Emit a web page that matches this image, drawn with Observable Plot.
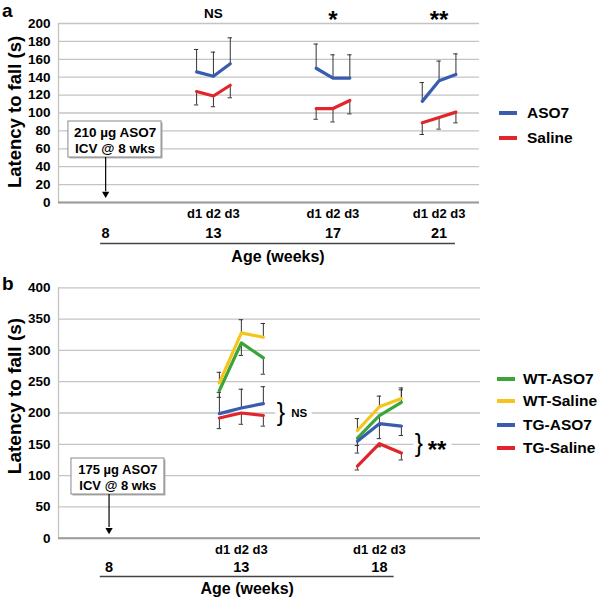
<!DOCTYPE html>
<html><head><meta charset="utf-8">
<script src="https://cdn.jsdelivr.net/npm/d3@7"></script>
<script src="https://cdn.jsdelivr.net/npm/@observablehq/plot@0.6"></script>
<style>
body{margin:0;background:#fff;font-family:"Liberation Sans",Arial,Helvetica,sans-serif;}
#root{position:relative;width:600px;height:597px;overflow:hidden;background:#fff;}
.panel{position:absolute;left:0;}
.item{position:absolute;white-space:nowrap;display:flex;align-items:center;font-weight:bold;font-size:15.5px;line-height:18px;color:#000;}
.sw{width:18px;height:3.5px;margin-right:10px;}
.plabel{position:absolute;font-weight:bold;font-size:19px;line-height:22px;color:#000;}
</style></head><body><div id="root"></div>
<script>
// ---------- DATA ----------
const days = ["d1", "d2", "d3"];

// Panel a
const weeksA = ["8", "13", "17", "21"];
const testedWeeksA = ["13", "17", "21"];
const seriesA = ["ASO7", "Saline"];
const aso7MeanA = [[146, 141, 155], [150, 139, 139], [113, 136, 143]];
const aso7ErrEndA = [[171, 168, 184], [177, 165, 165], [134, 158, 166]];
const salineMeanA = [[124, 119, 131], [105, 105, 114], [89, 95, 101]];
const salineErrEndA = [[109, 107, 117], [93, 90, 99], [76, 82, 89]];
const sigA = ["NS", "*", "**"];
const yTicksA = [0, 20, 40, 60, 80, 100, 120, 140, 160, 180, 200];

// Panel b
const weeksB = ["8", "13", "18"];
const testedWeeksB = ["13", "18"];
const seriesB = ["WT-ASO7", "WT-Saline", "TG-ASO7", "TG-Saline"];
const wtAsoMeanB = [[236, 312, 288], [160, 196, 217]];
const wtAsoErrEndB = [[225, 292, 262], [148, 180, 237]];
const wtSalMeanB = [[248, 328, 321], [172, 210, 223]];
const wtSalErrEndB = [[265, 349, 343], [191, 227, 240]];
const tgAsoMeanB = [[199, 208, 215], [155, 183, 179]];
const tgAsoErrEndB = [[233, 238, 242], [136, 159, 164]];
const tgSalMeanB = [[192, 200, 196], [115, 151, 136]];
const tgSalErrEndB = [[175, 182, 179], [109, 146, 125]];
const sigB = ["NS", "**"];
const sigYB = [200, 150];
const yTicksB = [0, 50, 100, 150, 200, 250, 300, 350, 400];

// ---------- LAYOUT / STYLE ----------
const FONT = "Liberation Sans, Arial, Helvetica, sans-serif";
const colorsA = ["#3a5cae", "#e1252a"];
const colorsB = ["#3ba53c", "#f6c51b", "#3a5cae", "#e1252a"];
const posA = {"8": 2.8, "13": 9.2, "17": 16.3, "21": 22.6};   // category slots
const posB = {"8": 2.3, "13": 8.32, "18": 14.6};

function rows(series, means, errs, weeks, pos) {
  const out = [];
  series.forEach((s, si) => weeks.forEach((w, wi) => days.forEach((d, di) =>
    out.push({series: s, week: w, day: d, x: pos[w] + (di - 1), y: means[si][wi][di], e: errs[si][wi][di]}))));
  return out;
}

const dataA = rows(seriesA, [aso7MeanA, salineMeanA], [aso7ErrEndA, salineErrEndA], testedWeeksA, posA);
const dataB = rows(seriesB, [wtAsoMeanB, wtSalMeanB, tgAsoMeanB, tgSalMeanB],
  [wtAsoErrEndB, wtSalErrEndB, tgAsoErrEndB, tgSalErrEndB], testedWeeksB, posB);

const grid = "#c4c4c4";
const bold = {fontWeight: "bold", fill: "#000"};

// ---------- PANEL A ----------
const lineA1 = posA["8"] - 0.3, lineA2 = posA["21"] + 0.97;
const plotA = Plot.plot({
  width: 600, height: 270,
  marginTop: 23, marginBottom: 68, marginLeft: 58, marginRight: 121,
  style: {fontFamily: FONT, color: "#000", background: "transparent", overflow: "visible"},
  x: {domain: [0, 25], axis: null},
  y: {domain: [0, 200], axis: null},
  color: {domain: seriesA, range: colorsA},
  marks: [
    Plot.gridY(yTicksA, {stroke: grid, strokeOpacity: 1, strokeWidth: 1.3}),
    Plot.ruleX([0], {stroke: grid, strokeWidth: 1.3}),
    Plot.ruleY([0], {stroke: "#9c9c9c", strokeWidth: 2}),
    Plot.axisY(yTicksA, {tickSize: 0, tickPadding: 8, fontSize: 13.5, ...bold, label: null}),
    Plot.text(["Latency to fall (s)"], {frameAnchor: "left", rotate: -90, dx: -38, dy: -1, textAnchor: "middle", lineAnchor: "bottom", fontSize: 18.5, ...bold}),
    // annotation box + arrow
    Plot.rect([0], {x1: 0.59, x2: 6.12, y1: 50.3, y2: 90.5, fill: "#b0b0b0", dx: 1.5, dy: 1.5}),
    Plot.rect([0], {x1: 0.59, x2: 6.12, y1: 50.3, y2: 90.5, fill: "white", stroke: "#8a8a8a", strokeWidth: 1}),
    Plot.text(["210 µg ASO7\nICV @ 8 wks"], {x: 3.36, y: 70.4, fontSize: 13.5, lineHeight: 1.19, ...bold}),
    Plot.ruleX([posA["8"]], {x: d => d, y1: 50.3, y2: 12, stroke: "#000", strokeWidth: 1.2}),
    Plot.dot([posA["8"]], {x: d => d, y: 9.6, symbol: "triangle", rotate: 180, r: 2.7, fill: "#000", stroke: "none"}),
    // error bars
    Plot.ruleX(dataA, {x: "x", y1: "y", y2: "e", stroke: "#333", strokeWidth: 1}),
    Plot.ruleY(dataA, {y: "e", x1: d => d.x - 0.13, x2: d => d.x + 0.13, stroke: "#333", strokeWidth: 1}),
    // lines
    Plot.line(dataA, {x: "x", y: "y", z: d => d.series + d.week, stroke: "series", strokeWidth: 3.2}),
    // significance
    Plot.text(testedWeeksA.filter((w, i) => sigA[i] === "NS"), {x: w => posA[w], y: 200, text: () => "NS", dy: -10, fontSize: 13.5, ...bold}),
    Plot.text(testedWeeksA.filter((w, i) => sigA[i] !== "NS"), {x: w => posA[w], y: 200, text: w => sigA[testedWeeksA.indexOf(w)], dy: -3, fontSize: 24, ...bold}),
    // x decorations
    Plot.text(testedWeeksA, {x: w => posA[w], y: 0, text: () => days.join(" "), dy: 11, fontSize: 13, ...bold}),
    Plot.text(weeksA, {x: w => posA[w], y: 0, text: w => w, dy: 31, fontSize: 14.5, ...bold}),
    Plot.ruleY([0], {x1: lineA1, x2: lineA2, dy: 41, stroke: "#444", strokeWidth: 1.3}),
    Plot.text(["Age (weeks)"], {x: (lineA1 + lineA2) / 2, y: 0, dy: 54, fontSize: 16, ...bold})
  ]
});

// ---------- PANEL B ----------
const lineB1 = posB["8"] - 0.4, lineB2 = posB["18"] + 0.67;
const plotB = Plot.plot({
  width: 600, height: 327,
  marginTop: 17.3, marginBottom: 59.3, marginLeft: 58, marginRight: 120,
  style: {fontFamily: FONT, color: "#000", background: "transparent", overflow: "visible"},
  x: {domain: [0, 19.2], axis: null},
  y: {domain: [0, 400], axis: null},
  color: {domain: seriesB, range: colorsB},
  marks: [
    Plot.gridY(yTicksB, {stroke: grid, strokeOpacity: 1, strokeWidth: 1.3}),
    Plot.ruleX([0], {stroke: grid, strokeWidth: 1.3}),
    Plot.ruleY([0], {stroke: "#9c9c9c", strokeWidth: 2}),
    Plot.axisY(yTicksB, {tickSize: 0, tickPadding: 8, fontSize: 13.5, ...bold, label: null}),
    Plot.text(["Latency to fall (s)"], {frameAnchor: "left", rotate: -90, dx: -38, dy: -17, textAnchor: "middle", lineAnchor: "bottom", fontSize: 19, ...bold}),
    // annotation box + arrow
    Plot.rect([0], {x1: 0.59, x2: 4.82, y1: 69.8, y2: 127.3, fill: "#b0b0b0", dx: 1.5, dy: 1.5}),
    Plot.rect([0], {x1: 0.59, x2: 4.82, y1: 69.8, y2: 127.3, fill: "white", stroke: "#8a8a8a", strokeWidth: 1}),
    Plot.text(["175 µg ASO7\nICV @ 8 wks"], {x: 2.7, y: 98.5, fontSize: 13, lineHeight: 1.3, ...bold}),
    Plot.ruleX([posB["8"]], {x: d => d, y1: 69.8, y2: 17, stroke: "#000", strokeWidth: 1.2}),
    Plot.dot([posB["8"]], {x: d => d, y: 13, symbol: "triangle", rotate: 180, r: 2.7, fill: "#000", stroke: "none"}),
    // error bars
    Plot.ruleX(dataB, {x: "x", y1: "y", y2: "e", stroke: "#333", strokeWidth: 1}),
    Plot.ruleY(dataB, {y: "e", x1: d => d.x - 0.1, x2: d => d.x + 0.1, stroke: "#333", strokeWidth: 1}),
    // lines
    Plot.line(dataB, {x: "x", y: "y", z: d => d.series + d.week, stroke: "series", strokeWidth: 3.2}),
    // significance braces
    Plot.text(testedWeeksB, {x: w => posB[w] + 1.8, y: (w, i) => sigYB[i], text: () => "}", fontSize: 25, fontWeight: "normal", fill: "#000", stroke: "white", strokeWidth: 10}),
    Plot.text(testedWeeksB.filter((w, i) => sigB[i] === "NS"), {x: w => posB[w] + 2.27, y: w => sigYB[testedWeeksB.indexOf(w)], text: () => "NS", textAnchor: "start", fontSize: 11.5, stroke: "white", strokeWidth: 10, ...bold}),
    Plot.text(testedWeeksB.filter((w, i) => sigB[i] !== "NS"), {x: w => posB[w] + 2.2, y: w => sigYB[testedWeeksB.indexOf(w)], text: w => sigB[testedWeeksB.indexOf(w)], textAnchor: "start", dy: 6, fontSize: 24, stroke: "white", strokeWidth: 10, ...bold}),
    // x decorations
    Plot.text(testedWeeksB, {x: w => posB[w], y: 0, text: () => days.join(" "), dy: 11.6, fontSize: 13, ...bold}),
    Plot.text(weeksB, {x: w => posB[w], y: 0, text: w => w, dy: 29.5, fontSize: 14.5, ...bold}),
    Plot.ruleY([0], {x1: lineB1, x2: lineB2, dy: 38.3, stroke: "#444", strokeWidth: 1.3}),
    Plot.text(["Age (weeks)"], {x: (lineB1 + lineB2) / 2, y: 0, dy: 50.5, fontSize: 16, ...bold})
  ]
});

// ---------- ASSEMBLE ----------
const root = document.getElementById("root");
plotA.classList.add("panel"); plotA.style.top = "0px";
plotB.classList.add("panel"); plotB.style.top = "270px";
root.appendChild(plotA);
root.appendChild(plotB);

function panelLabel(txt, left, top) {
  const d = document.createElement("div");
  d.className = "plabel";
  d.textContent = txt;
  d.style.left = left + "px";
  d.style.top = top + "px";
  root.appendChild(d);
}
panelLabel("a", 2, 0);
panelLabel("b", 2, 273);

function legend(series, colors, left, textLeft, centers) {
  series.forEach((s, i) => {
    const it = document.createElement("div");
    it.className = "item";
    it.style.left = left + "px";
    it.style.top = (centers[i] - 9) + "px";
    const sw = document.createElement("span");
    sw.className = "sw";
    sw.style.background = colors[i];
    sw.style.marginRight = (textLeft - left - 18) + "px";
    const t = document.createElement("span");
    t.textContent = s;
    it.appendChild(sw); it.appendChild(t);
    root.appendChild(it);
  });
}
legend(seriesA, colorsA, 499, 527, [113, 138]);
legend(seriesB, colorsB, 497, 523, [379, 401, 425, 448]);
</script>
</body></html>
